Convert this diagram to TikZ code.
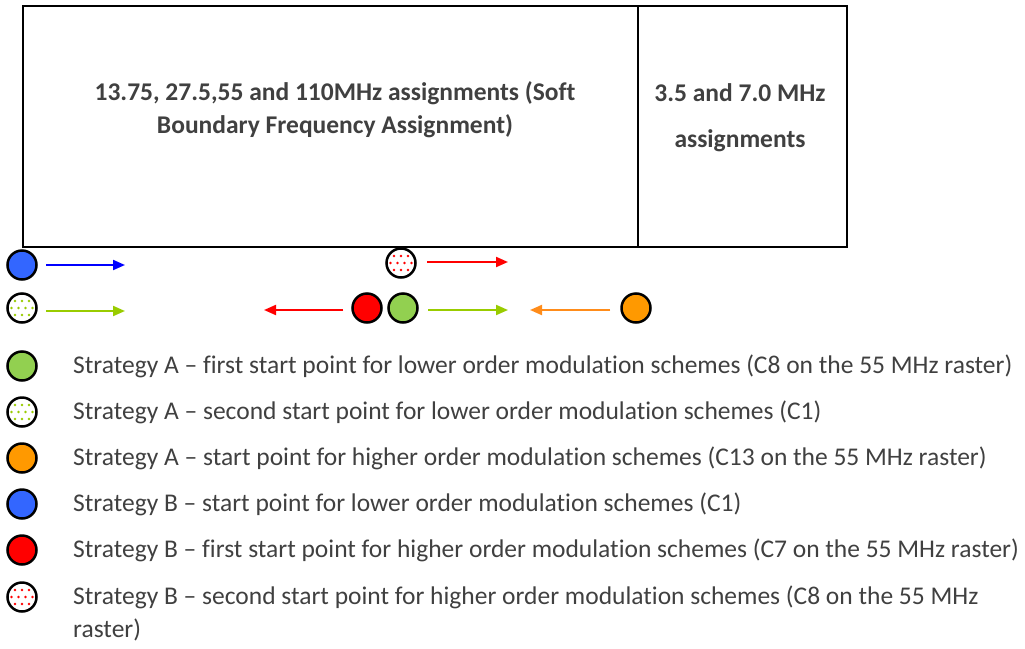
\documentclass[tikz,border=0pt]{standalone}
\usepackage{fontspec}
\setmainfont[Ligatures={NoCommon}]{Carlito}
\usetikzlibrary{arrows.meta}
\definecolor{txt}{HTML}{404040}
\definecolor{cgreen}{HTML}{92D050}
\definecolor{corange}{HTML}{FF9900}
\definecolor{cblue}{HTML}{3366FF}
\definecolor{cred}{HTML}{FF0000}
\definecolor{agreen}{HTML}{99CC00}
\definecolor{aorange}{HTML}{FF8C1A}
\definecolor{ablue}{HTML}{0000FF}
\tikzset{
  circ/.style={circle, draw=black, line width=2.5pt, minimum size=29pt, inner sep=0pt},
  arr/.style={line width=2pt, -{Triangle[length=12pt,width=10pt]}},
  boxtxt/.style={font=\fontsize{25.5}{33}\selectfont\bfseries, text=txt, align=center},
  legtxt/.style={font=\fontsize{25.5}{33}\selectfont, text=txt, anchor=west, align=left, inner sep=0pt}
}
\newcommand{\mydots}[3]{%
  \begin{scope}
    \clip (#1,#2) circle (13);
    \foreach \j [count=\k] in {-14,-7,...,14} {
      \pgfmathsetmacro{\off}{mod(\k,2)*3.5}
      \foreach \i in {-14,-7,...,14} {
        \fill[#3] ({#1+\i+\off},{#2+\j}) circle (1.3);
      }
    }
  \end{scope}}
\begin{document}
\begin{tikzpicture}[x=1pt,y=-1pt]
\useasboundingbox (0,0) rectangle (1025,648);
% boxes
\node[draw, line width=2pt, minimum width=615pt, minimum height=241pt, anchor=north west, inner sep=0pt] (big) at (22,5) {};
\node[draw, line width=2pt, minimum width=209pt, minimum height=241pt, anchor=north west, inner sep=0pt] (small) at (637,5) {};
\node[boxtxt] (bigt) at (335,110) {13.75, 27.5,55 and 110MHz assignments (Soft\\Boundary Frequency Assignment)};
\node[boxtxt, font=\fontsize{25.5}{46}\selectfont\bfseries] (smallt) at (740,118) {3.5 and 7.0 MHz\\assignments};

% markers row 1
\node[circ, fill=cblue] (b1) at (22,265) {};
\coordinate (b1s) at (46,265); \coordinate (b1e) at (125,265);
\draw[arr, draw=ablue, fill=cblue] (b1s) -- (b1e);

\node[circ, fill=white] (rd) at (401,263) {};
\mydots{401}{263}{cred}
\coordinate (rds) at (427,262); \coordinate (rde) at (508,262);
\draw[arr, draw=cred, fill=cred] (rds) -- (rde);

% markers row 2
\node[circ, fill=white] (gd) at (22,308) {};
\mydots{22}{308}{agreen}
\coordinate (gds) at (46,311); \coordinate (gde) at (125,311);
\draw[arr, draw=agreen, fill=agreen] (gds) -- (gde);

\node[circ, fill=cred] (r1) at (367,308) {};
\coordinate (r1s) at (343,310); \coordinate (r1e) at (264,310);
\draw[arr, draw=cred, fill=cred] (r1s) -- (r1e);

\node[circ, fill=cgreen] (g1) at (403,308) {};
\coordinate (g1s) at (428,310); \coordinate (g1e) at (508,310);
\draw[arr, draw=agreen, fill=agreen] (g1s) -- (g1e);

\node[circ, fill=corange] (o1) at (636,308) {};
\coordinate (o1s) at (610,310); \coordinate (o1e) at (530,310);
\draw[arr, draw=aorange, fill=aorange] (o1s) -- (o1e);

% legend
\node[circ, fill=cgreen] (l1) at (22,366) {};
\node[legtxt] (t1) at (73,366) {Strategy A – first start point for lower order modulation schemes (C8 on the 55 MHz raster)};
\node[circ, fill=white] (l2) at (22,412) {};
\mydots{22}{412}{agreen}
\node[legtxt] (t2) at (73,412) {Strategy A – second start point for lower order modulation schemes (C1)};
\node[circ, fill=corange] (l3) at (22,458) {};
\node[legtxt] (t3) at (73,458) {Strategy A – start point for higher order modulation schemes (C13 on the 55 MHz raster)};
\node[circ, fill=cblue] (l4) at (22,504) {};
\node[legtxt] (t4) at (73,504) {Strategy B – start point for lower order modulation schemes (C1)};
\node[circ, fill=cred] (l5) at (22,550) {};
\node[legtxt] (t5) at (73,550) {Strategy B – first start point for higher order modulation schemes (C7 on the 55 MHz raster)};
\node[circ, fill=white] (l6) at (22,597) {};
\mydots{22}{597}{cred}
\node[legtxt] (t6) at (73,613) {Strategy B – second start point for higher order modulation schemes (C8 on the 55 MHz\\raster)};
\end{tikzpicture}
\end{document}
